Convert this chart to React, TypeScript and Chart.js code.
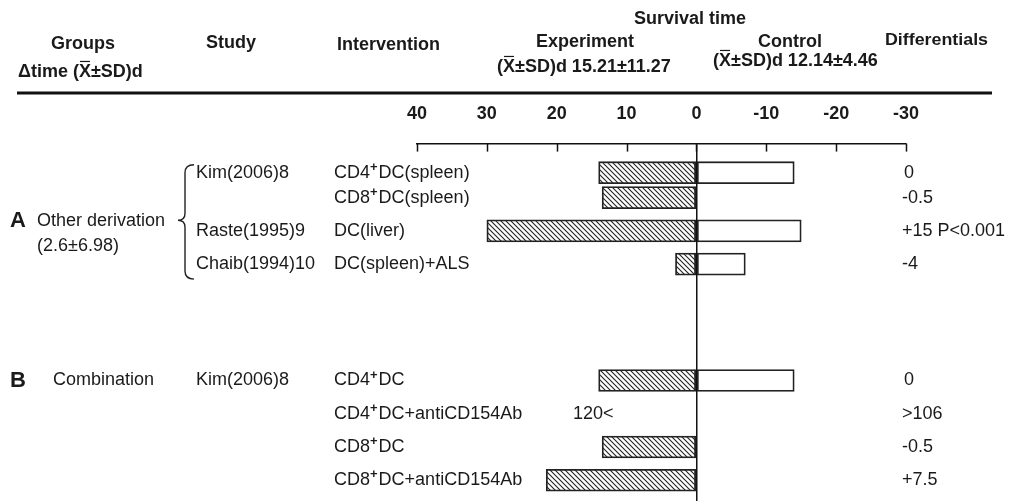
import React, { useEffect, useRef } from 'react';
import { Chart, registerables } from 'chart.js';

Chart.register(...registerables);

// ---------- data ----------
const interventions = [
  'CD4⁺DC(spleen)',
  'CD8⁺DC(spleen)',
  'DC(liver)',
  'DC(spleen)+ALS',
  'CD4⁺DC',
  'CD4⁺DC+antiCD154Ab',
  'CD8⁺DC',
  'CD8⁺DC+antiCD154Ab',
];
const studies = ['Kim(2006)8', '', 'Raste(1995)9', 'Chaib(1994)10', 'Kim(2006)8', '', '', ''];
// experiment survival time (plotted to the left, positive)
const experimentDays: (number | null)[] = [14, 13.5, 30, 3, 14, null, 13.5, 21.5];
// control survival time (plotted to the right, negative side of the axis)
const controlDays: (number | null)[] = [-14, null, -15, -7, -14, null, null, null];
const differentials = ['0', '-0.5', '+15 P<0.001', '-4', '0', '>106', '-0.5', '+7.5'];
const offScaleNotes = ['', '', '', '', '', '120<', '', ''];
const xTicks = [40, 30, 20, 10, 0, -10, -20, -30];

// ---------- layout (row slots on a fine category grid) ----------
const SLOT_COUNT = 43;
const rowSlots = [3, 6, 10, 14, 28, 32, 36, 40];

const FONT = "'Liberation Sans', Arial, Helvetica, sans-serif";
const INK = '#1a1a1a';

const slotLabels = Array.from({ length: SLOT_COUNT }, (_, i) => {
  const r = rowSlots.indexOf(i);
  return r >= 0 ? interventions[r] : '';
});
const bySlot = (arr: (number | null)[]) =>
  slotLabels.map((_, i) => {
    const r = rowSlots.indexOf(i);
    return r >= 0 ? arr[r] : null;
  });

function makeHatch(): CanvasPattern | string {
  const n = 5;
  const p = document.createElement('canvas');
  p.width = n;
  p.height = n;
  const c = p.getContext('2d');
  if (!c) return '#888';
  c.fillStyle = '#ffffff';
  c.fillRect(0, 0, n, n);
  c.strokeStyle = '#222';
  c.lineWidth = 1.1;
  c.beginPath();
  c.moveTo(-1, -1);
  c.lineTo(n + 1, n + 1);
  c.moveTo(-1, n - 1);
  c.lineTo(1, n + 1);
  c.moveTo(n - 1, -1);
  c.lineTo(n + 1, 1);
  c.stroke();
  const pat = c.createPattern(p, 'repeat');
  return pat || '#888';
}

function text(
  ctx: CanvasRenderingContext2D,
  s: string,
  x: number,
  y: number,
  font: string,
  align: CanvasTextAlign = 'left',
  overlineX = false,
  stretchTo?: number
) {
  ctx.save();
  ctx.font = font;
  ctx.fillStyle = INK;
  ctx.textBaseline = 'middle';
  const w = ctx.measureText(s).width;
  const k = stretchTo ? stretchTo / w : 1;
  const totalW = w * k;
  let left = x;
  if (align === 'center') left = x - totalW / 2;
  else if (align === 'right') left = x - totalW;
  ctx.translate(left, y);
  ctx.scale(k, 1);
  ctx.textAlign = 'left';
  ctx.fillText(s, 0, 0);
  if (overlineX) {
    const idx = s.indexOf('X');
    if (idx >= 0) {
      const pre = ctx.measureText(s.slice(0, idx)).width;
      const m = ctx.measureText('X');
      const asc = m.actualBoundingBoxAscent || 7;
      ctx.strokeStyle = INK;
      ctx.lineWidth = 1.2;
      ctx.beginPath();
      ctx.moveTo(pre + 1, -asc - 2.5);
      ctx.lineTo(pre + m.width - 1, -asc - 2.5);
      ctx.stroke();
    }
  }
  ctx.restore();
}

// text where '⁺' is drawn as a raised bold plus sign
function richText(ctx: CanvasRenderingContext2D, s: string, x: number, y: number, size: number) {
  const parts = s.split('⁺');
  let cx = x;
  ctx.save();
  ctx.fillStyle = INK;
  ctx.textBaseline = 'middle';
  ctx.textAlign = 'left';
  parts.forEach((p, i) => {
    ctx.font = `${size}px ${FONT}`;
    ctx.fillText(p, cx, y);
    cx += ctx.measureText(p).width;
    if (i < parts.length - 1) {
      ctx.font = `bold ${Math.round(size * 0.7)}px ${FONT}`;
      ctx.fillText('+', cx, y - size * 0.3);
      cx += ctx.measureText('+').width + 1;
    }
  });
  ctx.restore();
}

const annotations = {
  id: 'annotations',
  afterDraw(chart: any) {
    const ctx: CanvasRenderingContext2D = chart.ctx;
    const xs = chart.scales.x;
    const ys = chart.scales.y;
    const area = chart.chartArea;

    // inward tick marks on the top axis
    ctx.save();
    ctx.strokeStyle = '#111';
    ctx.lineWidth = 1.5;
    xs.ticks.forEach((t: any) => {
      const px = Math.round(xs.getPixelForValue(t.value)) + 0.5;
      ctx.beginPath();
      ctx.moveTo(px, area.top);
      ctx.lineTo(px, area.top + 8);
      ctx.stroke();
    });
    // header rule
    ctx.strokeStyle = '#111';
    ctx.lineWidth = 3;
    ctx.beginPath();
    ctx.moveTo(17, 93);
    ctx.lineTo(992, 93);
    ctx.stroke();
    ctx.restore();

    const B18 = `bold 18px ${FONT}`;
    const R18 = `18px ${FONT}`;

    // header
    text(ctx, 'Groups', 83, 44, B18, 'center');
    text(ctx, 'Δtime (X±SD)d', 18, 72, B18, 'left', true);
    text(ctx, 'Study', 231, 43, B18, 'center');
    text(ctx, 'Intervention', 337, 45, B18, 'left');
    text(ctx, 'Survival time', 690, 19, B18, 'center');
    text(ctx, 'Experiment', 585, 42, B18, 'center');
    text(ctx, '(X±SD)d 15.21±11.27', 497, 67, B18, 'left', true);
    text(ctx, 'Control', 790, 42, B18, 'center');
    text(ctx, '(X±SD)d 12.14±4.46', 713, 61, B18, 'left', true);
    text(ctx, 'Differentials', 885, 41, `bold 16px ${FONT}`, 'left', false, 103);

    // rows
    rowSlots.forEach((slot, r) => {
      const y = ys.getPixelForValue(slot);
      if (studies[r]) text(ctx, studies[r], 196, y, R18);
      richText(ctx, interventions[r], 334, y, 18);
      text(ctx, differentials[r], differentials[r] === '0' ? 904 : 902, y, R18);
      if (offScaleNotes[r]) text(ctx, offScaleNotes[r], 573, y, R18);
    });

    // group labels
    const yA = (ys.getPixelForValue(rowSlots[2]) + ys.getPixelForValue(rowSlots[1])) / 2 + 7;
    text(ctx, 'A', 10, yA, `bold 22px ${FONT}`);
    text(ctx, 'Other derivation', 37, yA, R18);
    text(ctx, '(2.6±6.98)', 37, yA + 25, R18);
    const yB = ys.getPixelForValue(rowSlots[4]);
    text(ctx, 'B', 10, yB, `bold 22px ${FONT}`);
    text(ctx, 'Combination', 53, yB, R18);

    // brace
    const top = ys.getPixelForValue(rowSlots[0]) - 8;
    const bot = ys.getPixelForValue(rowSlots[3]) + 15;
    const mid = yA - 1;
    const bx = 185;
    ctx.save();
    ctx.strokeStyle = '#222';
    ctx.lineWidth = 1.4;
    ctx.beginPath();
    ctx.moveTo(194, top);
    ctx.quadraticCurveTo(bx, top, bx, top + 8);
    ctx.lineTo(bx, mid - 7);
    ctx.quadraticCurveTo(bx, mid, bx - 7, mid);
    ctx.quadraticCurveTo(bx, mid, bx, mid + 7);
    ctx.lineTo(bx, bot - 8);
    ctx.quadraticCurveTo(bx, bot, 194, bot);
    ctx.stroke();
    ctx.restore();
  },
};

export default function App() {
  const ref = useRef<HTMLCanvasElement>(null);

  useEffect(() => {
    const canvas = ref.current;
    if (!canvas) return;
    const hatch = makeHatch();
    const chart = new Chart(canvas, {
      type: 'bar',
      data: {
        labels: slotLabels,
        datasets: [
          {
            label: 'Experiment',
            data: bySlot(experimentDays),
            backgroundColor: hatch as any,
            borderColor: '#222',
            borderWidth: 1.8,
            borderSkipped: false,
            barThickness: 22,
            grouped: false,
          } as any,
          {
            label: 'Control',
            data: bySlot(controlDays),
            backgroundColor: '#ffffff',
            borderColor: '#222',
            borderWidth: 1.8,
            borderSkipped: false,
            barThickness: 22,
            grouped: false,
          } as any,
        ],
      },
      options: {
        indexAxis: 'y',
        responsive: false,
        devicePixelRatio: 1,
        animation: false,
        layout: { padding: { left: 417, right: 103, top: 84, bottom: 0 } },
        plugins: { legend: { display: false }, tooltip: { enabled: false } },
        scales: {
          x: {
            type: 'linear',
            position: 'top',
            reverse: true,
            min: -30,
            max: 40,
            afterBuildTicks: (s: any) => {
              s.ticks = xTicks.map((v) => ({ value: v }));
            },
            ticks: {
              font: { family: FONT, size: 18, weight: 'bold' },
              color: INK,
              padding: 19,
              maxRotation: 0,
              autoSkip: false,
            },
            grid: {
              drawTicks: false,
              lineWidth: 1.5,
              color: (c: any) => (c.tick && c.tick.value === 0 ? '#111' : 'rgba(0,0,0,0)'),
            },
            border: { display: true, color: '#111', width: 1.5 },
          } as any,
          y: {
            type: 'category',
            display: false,
            offset: true,
            grid: { display: false },
          },
        },
      },
      plugins: [annotations],
    });
    return () => chart.destroy();
  }, []);

  return (
    <div style={{ position: 'fixed', left: 0, top: 0, width: 1009, height: 501, background: '#fff' }}>
      <canvas ref={ref} width={1009} height={501} style={{ display: 'block', width: 1009, height: 501 }} />
    </div>
  );
}
